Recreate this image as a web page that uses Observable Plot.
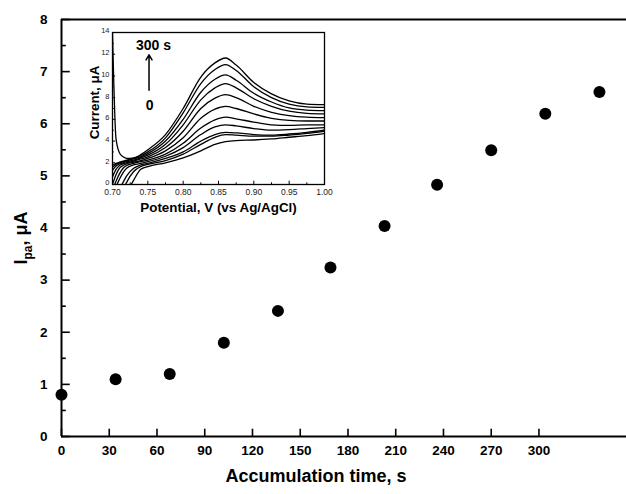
<!DOCTYPE html>
<html><head><meta charset="utf-8">
<script src="https://cdn.jsdelivr.net/npm/d3@7"></script>
<script src="https://cdn.jsdelivr.net/npm/@observablehq/plot@0.6"></script>
<style>
html,body{margin:0;padding:0;background:#fff;overflow:hidden}
#wrap{position:relative;width:626px;height:494px}
#wrap svg{position:absolute;left:0;top:0}
</style></head><body><div id="wrap"></div>
<script>
// ---- main chart data (x read in axis units) ----
const accumTimes = [0, 34, 68, 102, 136, 169, 203, 236, 270, 304, 338];
const peakCurrents = [0.80, 1.10, 1.20, 1.80, 2.41, 3.24, 4.04, 4.83, 5.49, 6.19, 6.61];
const xTicks = [0, 30, 60, 90, 120, 150, 180, 210, 240, 270, 300];
const yTicks = [0, 1, 2, 3, 4, 5, 6, 7, 8];
const yMinorTicks = [0.5, 1.5, 2.5, 3.5, 4.5, 5.5, 6.5, 7.5];

// ---- inset data ----
const potentials = [0.700, 0.705, 0.710, 0.715, 0.720, 0.730, 0.740, 0.750, 0.775, 0.800, 0.825, 0.845, 0.860, 0.875, 0.900, 0.925, 0.950, 0.975, 1.000];
const curveLabels = ["0 s","30 s","60 s","90 s","120 s","150 s","180 s","210 s","240 s","270 s","300 s"];
const curve0  = [-3.0, -2.5, -2.0, -1.5, -0.8, 0.4, 1.4, 1.65, 2.0, 2.45, 3.1, 3.7, 3.95, 4.05, 4.1, 4.2, 4.35, 4.5, 4.7];
const curve1  = [-2.4, -1.8, -1.2, -0.5, 0.2, 1.2, 1.65, 1.85, 2.2, 2.8, 3.7, 4.35, 4.6, 4.55, 4.45, 4.45, 4.55, 4.7, 4.9];
const curve2  = [-1.6, -1.0, -0.4, 0.2, 0.8, 1.5, 1.8, 1.95, 2.4, 3.0, 4.0, 4.6, 4.8, 4.75, 4.6, 4.55, 4.65, 4.8, 5.0];
const curve3  = [-0.9, -0.2, 0.5, 1.1, 1.5, 1.8, 1.95, 2.1, 2.6, 3.4, 4.6, 5.3, 5.5, 5.4, 5.15, 5.0, 5.05, 5.15, 5.25];
const curve4  = [-0.5, 0.3, 1.0, 1.5, 1.75, 1.95, 2.1, 2.25, 2.8, 3.8, 5.2, 5.95, 6.2, 6.05, 5.75, 5.5, 5.45, 5.5, 5.5];
const curve5  = [0.0, 0.9, 1.5, 1.75, 1.9, 2.05, 2.2, 2.4, 3.1, 4.3, 6.1, 6.95, 7.2, 7.0, 6.5, 6.1, 5.9, 5.85, 5.85];
const curve6  = [0.7, 1.4, 1.75, 1.9, 2.0, 2.15, 2.35, 2.55, 3.4, 4.9, 7.0, 7.95, 8.27, 8.0, 7.2, 6.65, 6.35, 6.2, 6.15];
const curve7  = [1.3, 1.7, 1.9, 2.0, 2.1, 2.25, 2.45, 2.7, 3.7, 5.5, 7.8, 8.9, 9.3, 8.9, 7.9, 7.2, 6.75, 6.55, 6.5];
const curve8  = [1.6, 1.85, 2.0, 2.1, 2.2, 2.35, 2.55, 2.85, 4.0, 6.0, 8.5, 9.7, 10.1, 9.6, 8.4, 7.6, 7.05, 6.85, 6.8];
const curve9  = [1.8, 1.95, 2.05, 2.15, 2.25, 2.4, 2.65, 3.0, 4.3, 6.6, 9.3, 10.6, 11.05, 10.5, 9.0, 8.0, 7.4, 7.15, 7.1];
const curve10 = [14.0, 4.2, 2.9, 2.55, 2.4, 2.45, 2.75, 3.2, 4.6, 7.0, 9.9, 11.2, 11.65, 11.0, 9.4, 8.35, 7.7, 7.4, 7.35];
const insetXTicks = [0.70, 0.75, 0.80, 0.85, 0.90, 0.95, 1.00];
const insetXMinor = [0.725, 0.775, 0.825, 0.875, 0.925, 0.975];
const insetYTicks = [0, 2, 4, 6, 8, 10, 12, 14];
const insetYMinor = [1, 3, 5, 7, 9, 11, 13];
const annoTexts = [{E: 0.758, I: 12.83, label: "300 s"}, {E: 0.7526, I: 7.3, label: "0"}];
const annoArrow = [{E: 0.7517, I1: 8.67, I2: 11.95}];

const font = "'Liberation Sans', Arial, sans-serif";
const mainData = accumTimes.map((t, i) => ({t, ipa: peakCurrents[i]}));
const curves = [curve0, curve1, curve2, curve3, curve4, curve5, curve6, curve7, curve8, curve9, curve10];
const curveData = curves.flatMap((vals, i) => vals.map((v, j) => ({E: potentials[j], I: v, t: curveLabels[i]})));

const main = Plot.plot({
  width: 626, height: 494,
  marginLeft: 61, marginRight: 0, marginTop: 19, marginBottom: 58,
  x: {domain: [0, 355]},
  y: {domain: [0, 8]},
  style: {fontFamily: font, background: "transparent", color: "black"},
  marks: [
    Plot.axisX({ticks: xTicks, tickSize: 0, tickPadding: 9, fontSize: 13.5, fontWeight: "bold", label: null}),
    Plot.axisY({ticks: yTicks, tickSize: 0, tickPadding: 14, fontSize: 13.5, fontWeight: "bold", label: null}),
    Plot.ruleX(xTicks, {x: d => d, y1: 0, y2: 0.14, strokeWidth: 1.6}),
    Plot.ruleY(yTicks, {y: d => d, x1: 0, x2: 5.5, strokeWidth: 1.6}),
    Plot.ruleY(yMinorTicks, {y: d => d, x1: 0, x2: 3, strokeWidth: 1.6}),
    Plot.ruleY([0, 8], {strokeWidth: 2}),
    Plot.ruleX([0], {strokeWidth: 2}),
    Plot.dot(mainData, {x: "t", y: "ipa", r: 6, fill: "black", stroke: null}),
    Plot.text(["Accumulation time, s"], {frameAnchor: "bottom", lineAnchor: "middle", textAnchor: "middle", dy: 40, dx: -28, fontSize: 18, fontWeight: "bold"}),
    Plot.text(["Ipa, μA"], {frameAnchor: "left", textAnchor: "middle", lineAnchor: "middle", dx: -40, dy: 10, rotate: -90, fontSize: 18, fontWeight: "bold"})
  ]
});

// subscript for I_pa
main.querySelectorAll("text").forEach(t => {
  if (t.textContent === "Ipa, μA") {
    t.textContent = "";
    const ns = "http://www.w3.org/2000/svg";
    const a = document.createElementNS(ns, "tspan"); a.textContent = "I";
    const b = document.createElementNS(ns, "tspan"); b.textContent = "pa"; b.setAttribute("font-size", "12"); b.setAttribute("dy", "5");
    const c = document.createElementNS(ns, "tspan"); c.textContent = ", μA"; c.setAttribute("dy", "-5");
    t.append(a, b, c);
  }
});

const inset = Plot.plot({
  width: 340, height: 225,
  marginLeft: 112, marginRight: 16, marginTop: 32, marginBottom: 41,
  x: {domain: [0.70, 1.00]},
  y: {domain: [0, 14]},
  style: {fontFamily: font, background: "transparent", color: "black"},
  marks: [
    Plot.line(curveData, {x: "E", y: "I", z: "t", curve: "monotone-x", strokeWidth: 1.3, stroke: "black", clip: true}),
    Plot.frame({strokeWidth: 1.3}),
    Plot.axisX({ticks: insetXTicks, tickFormat: d3.format(".2f"), tickSize: 0, tickPadding: 4.5, fontSize: 8.5, fill: "#222", label: null}),
    Plot.axisY({ticks: insetYTicks, tickSize: 0, tickPadding: 3, dy: -1.5, fontSize: 7.5, fill: "#222", label: null}),
    Plot.ruleX(insetXTicks, {x: d => d, y1: 0, y2: 0.3, strokeWidth: 1}),
    Plot.ruleX(insetXMinor, {x: d => d, y1: 0, y2: 0.15, strokeWidth: 1}),
    Plot.ruleY(insetYTicks, {y: d => d, x1: 0.70, x2: 0.7045, strokeWidth: 1}),
    Plot.ruleY(insetYMinor, {y: d => d, x1: 0.70, x2: 0.7025, strokeWidth: 1}),
    Plot.arrow(annoArrow, {x1: "E", x2: "E", y1: "I1", y2: "I2", strokeWidth: 1.5, headLength: 6}),
    Plot.text(annoTexts, {x: "E", y: "I", text: "label", fontSize: 14, fontWeight: "bold"}),
    Plot.text(["Potential, V (vs Ag/AgCl)"], {frameAnchor: "bottom", lineAnchor: "middle", textAnchor: "middle", dy: 23, fontSize: 13.4, fontWeight: "bold"}),
    Plot.text(["Current, μA"], {frameAnchor: "left", textAnchor: "middle", lineAnchor: "middle", dx: -18, dy: -6, rotate: -90, fontSize: 13.4, fontWeight: "bold"})
  ]
});

const wrap = document.getElementById("wrap");
wrap.append(main, inset);
</script>
</body></html>
